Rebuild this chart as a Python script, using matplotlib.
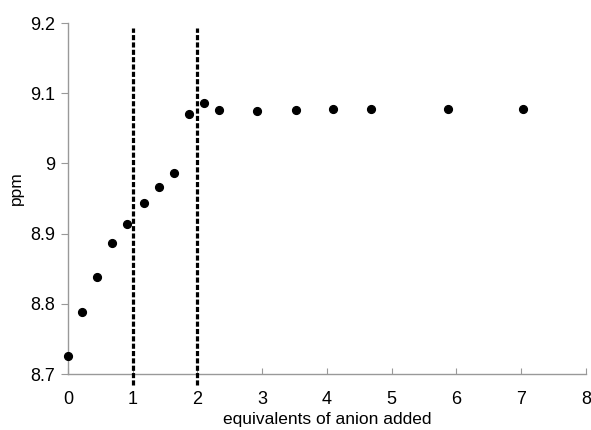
import matplotlib
matplotlib.use("Agg")
import matplotlib.pyplot as plt

plt.rcParams['font.family'] = ['Liberation Sans', 'DejaVu Sans']

equivalents = [0.0, 0.216, 0.448, 0.685, 0.911, 1.169, 1.405, 1.632, 1.869, 2.096,
               2.332, 2.924, 3.516, 4.087, 4.68, 5.87, 7.03]
ppm = [8.726, 8.788, 8.838, 8.886, 8.914, 8.943, 8.966, 8.987, 9.070, 9.086,
       9.0765, 9.0746, 9.0765, 9.078, 9.078, 9.077, 9.077]
marker_lines = [1, 2]
x_ticks = [0, 1, 2, 3, 4, 5, 6, 7, 8]
y_ticks = [8.7, 8.8, 8.9, 9.0, 9.1, 9.2]
y_tick_labels = ['8.7', '8.8', '8.9', '9', '9.1', '9.2']

fig = plt.figure(figsize=(5.91, 4.30), dpi=100)
ax = fig.add_axes([0.115, 0.130, 0.8765, 0.8165])

for xv in marker_lines:
    ax.plot([xv, xv], [8.684, 9.193], color='black', lw=2.3,
            linestyle=(0, (1.6, 0.7)), clip_on=False, zorder=3)

ax.plot(equivalents, ppm, 'o', color='black', ms=5.6, clip_on=False, zorder=4)

ax.set_xlim(0, 8)
ax.set_ylim(8.7, 9.2)
ax.set_xticks(x_ticks)
ax.set_yticks(y_ticks)
ax.set_yticklabels(y_tick_labels)

for side in ['top', 'right']:
    ax.spines[side].set_visible(False)
for side in ['left', 'bottom']:
    ax.spines[side].set_color('#999999')
    ax.spines[side].set_linewidth(1.0)

ax.tick_params(axis='x', direction='in', length=4, color='#999999', labelsize=13, pad=12)
ax.tick_params(axis='y', direction='out', length=5, color='#999999', labelsize=13, pad=4)

ax.set_xlabel('equivalents of anion added', fontsize=12.5, labelpad=3)
ax.set_ylabel('ppm', fontsize=12.5, labelpad=8)
ax.yaxis.set_label_coords(-0.085, 0.53)

fig.savefig('out.png', dpi=100)
